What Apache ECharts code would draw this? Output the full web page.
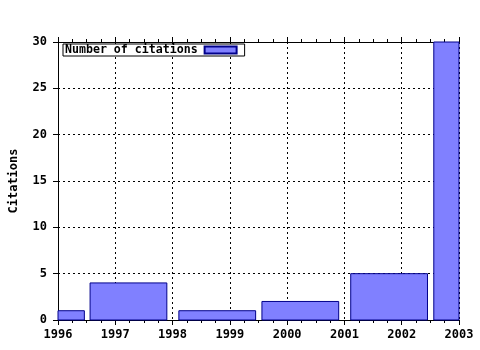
<!DOCTYPE html>
<html>
<head>
<meta charset="utf-8">
<script src="https://cdn.jsdelivr.net/npm/echarts@6/dist/echarts.min.js"></script>
<style>html,body{margin:0;padding:0;background:#fff;}#c{width:480px;height:350px;}</style>
</head>
<body>
<div id="c"></div>
<script>
const binStart = [1995.11, 1996.56, 1998.11, 1999.56, 2001.11, 2002.56];
const binEnd   = [1996.46, 1997.90, 1999.45, 2000.90, 2002.45, 2003.90];
const citations = [1, 4, 1, 2, 5, 30];
const seriesName = 'Number of citations';
const yTitle = 'Citations';

const FONT = 'DejaVu Sans Mono';
const data = citations.map((v, i) => [binStart[i], binEnd[i], v]);

const chart = echarts.init(document.getElementById('c'), null, {renderer: 'canvas'});
const dotted = {show: true, lineStyle: {color: '#000', width: 1, type: [2, 3]}};
chart.setOption({
  animation: false,
  backgroundColor: '#fff',
  grid: {left: 57, right: 21, top: 42, bottom: 30},
  legend: {
    left: 63, top: 44, z: 10,
    align: 'right',
    backgroundColor: '#fff',
    borderColor: '#000', borderWidth: 1,
    padding: [0, 7, 0, 2],
    itemWidth: 32, itemHeight: 7,
    textStyle: {fontFamily: FONT, fontWeight: 'bold', fontSize: 11.6, color: '#000', padding: [0, 2, 0, 0]},
    data: [{name: seriesName, icon: 'rect'}]
  },
  xAxis: [{
    type: 'value', min: 1996, max: 2003, interval: 1,
    axisLine: {show: true, onZero: false, lineStyle: {color: '#000', width: 1}},
    axisTick: {show: true, inside: false, length: 5, lineStyle: {color: '#000'}},
    minorTick: {show: true, splitNumber: 4, length: 3, lineStyle: {color: '#000'}},
    axisLabel: {margin: 9, fontFamily: FONT, fontWeight: 'bold', fontSize: 12, color: '#000',
      formatter: v => String(v)},
    splitLine: dotted
  }, {
    type: 'value', position: 'top', min: 1996, max: 2003, interval: 1,
    axisLine: {show: true, onZero: false, lineStyle: {color: '#000', width: 1}},
    axisTick: {show: true, inside: false, length: 5, lineStyle: {color: '#000'}},
    minorTick: {show: true, splitNumber: 4, length: 3, lineStyle: {color: '#000'}},
    axisLabel: {show: false},
    splitLine: {show: false}
  }],
  yAxis: [{
    type: 'value', min: 0, max: 30, interval: 5,
    name: yTitle, nameLocation: 'middle', nameGap: 38,
    nameTextStyle: {fontFamily: FONT, fontWeight: 'bold', fontSize: 12, color: '#000'},
    axisLine: {show: true, onZero: false, lineStyle: {color: '#000', width: 1}},
    axisTick: {show: true, inside: false, length: 5, lineStyle: {color: '#000'}},
    axisLabel: {margin: 11, fontFamily: FONT, fontWeight: 'bold', fontSize: 12, color: '#000'},
    splitLine: dotted
  }],
  series: [{
    name: seriesName,
    type: 'custom',
    xAxisIndex: 0, yAxisIndex: 0,
    itemStyle: {color: '#8080ff', borderColor: '#00008b', borderWidth: 1},
    encode: {x: [0, 1], y: 2},
    data: data,
    renderItem: function (params, api) {
      const p0 = api.coord([api.value(0), 0]);
      const p1 = api.coord([api.value(1), api.value(2)]);
      const rect = echarts.graphic.clipRectByRect({
        x: p0[0], y: p1[1], width: p1[0] - p0[0], height: p0[1] - p1[1]
      }, {
        x: params.coordSys.x, y: params.coordSys.y,
        width: params.coordSys.width, height: params.coordSys.height
      });
      if (!rect) return;
      return {
        type: 'rect',
        shape: rect,
        style: {fill: '#8080ff', stroke: '#00008b', lineWidth: 1}
      };
    }
  }]
});
</script>
</body>
</html>
